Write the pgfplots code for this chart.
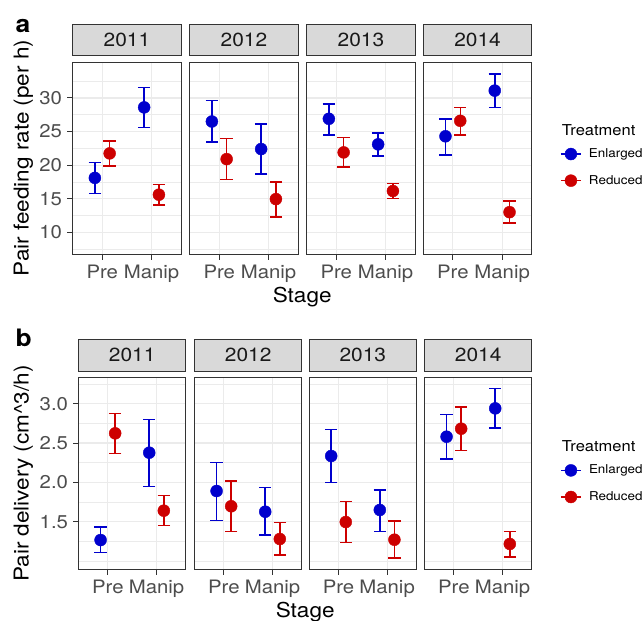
\documentclass[border=0pt]{standalone}
\usepackage{pgfplots}
\pgfplotsset{compat=1.18}
\usepackage{pgfplotstable}
\usepackage{fontspec}
\setmainfont{TeX Gyre Heros}[FakeStretch=1.1]
\definecolor{enl}{HTML}{0000CD}
\definecolor{red3}{HTML}{CD0000}
\definecolor{grey20}{HTML}{333333}
\definecolor{grey30}{HTML}{4D4D4D}
\definecolor{grey92}{HTML}{EBEBEB}
\definecolor{grey85}{HTML}{D9D9D9}

% Panel a: pair feeding rate (per h); s: 1 = Pre, 2 = Manip
\pgfplotstableread{
year s y lo hi
2011 1 18.1 15.8 20.4
2011 2 28.6 25.6 31.6
2012 1 26.5 23.45 29.65
2012 2 22.4 18.7 26.1
2013 1 26.9 24.5 29.1
2013 2 23.1 21.4 24.8
2014 1 24.3 21.5 26.9
2014 2 31.1 28.6 33.6
}\aEnl
\pgfplotstableread{
year s y lo hi
2011 1 21.75 19.9 23.6
2011 2 15.6 14.1 17.1
2012 1 20.9 17.9 24.0
2012 2 14.95 12.3 17.5
2013 1 21.9 19.7 24.1
2013 2 16.15 15.0 17.3
2014 1 26.6 24.5 28.6
2014 2 13.0 11.35 14.65
}\aRed
% Panel b: pair delivery (cm^3/h)
\pgfplotstableread{
year s y lo hi
2011 1 1.267 1.106 1.433
2011 2 2.377 1.95 2.80
2012 1 1.89 1.513 2.255
2012 2 1.627 1.33 1.932
2013 1 2.335 1.996 2.67
2013 2 1.649 1.378 1.90
2014 1 2.58 2.297 2.865
2014 2 2.94 2.69 3.19
}\bEnl
\pgfplotstableread{
year s y lo hi
2011 1 2.623 2.364 2.877
2011 2 1.64 1.45 1.83
2012 1 1.696 1.373 2.017
2012 2 1.28 1.077 1.487
2013 1 1.496 1.233 1.754
2013 2 1.271 1.04 1.509
2014 1 2.682 2.407 2.96
2014 2 1.217 1.05 1.378
}\bRed

\newcommand{\tickfont}{\fontsize{18.5bp}{20bp}\selectfont}
\newcommand{\stripfont}{\fontsize{19bp}{21bp}\selectfont}
\newcommand{\titlefont}{\fontsize{20.5bp}{23bp}\selectfont}

\pgfplotsset{
  panel/.style={
    scale only axis, anchor=north west,
    xmin=0.4, xmax=2.6,
    xtick={1,2}, xticklabels={Pre,Manip},
    tick pos=left, tick align=outside,
    major tick length=5.5bp, minor tick length=0pt,
    major tick style={grey20, line width=1bp},
    axis line style={grey20, line width=1bp},
    xmajorgrids, ymajorgrids, yminorgrids,
    major grid style={grey92, line width=1.1bp},
    minor grid style={grey92, line width=0.6bp},
    /pgf/number format/assume math mode=true,
    ticklabel style={font=\tickfont, text=grey30, inner sep=0pt},
    xticklabel style={yshift=-5.5bp},
    yticklabel style={xshift=-5bp},
    title style={at={(rel axis cs:0.5,1)}, anchor=south, fill=grey85, draw=grey20,
      line width=1bp, inner sep=0pt, font=\stripfont, text=black!90, yshift=0pt},
    legend style={draw=none, fill=none, inner sep=0pt, font=\fontsize{12.2bp}{14bp}\selectfont,
      row sep=14.2bp, column sep=7.3bp,
      nodes={inner sep=0pt, text height=9.5bp, text depth=2.8bp}},
    legend cell align=left,
  },
  pa/.style={panel, width=108.4bp, height=192bp, ymin=6.77, ymax=35.36,
    ytick={10,15,20,25,30}, minor ytick={7.5,12.5,17.5,22.5,27.5,32.5},
    title style={minimum width=108.4bp, minimum height=31.3bp}},
  pb/.style={panel, width=107bp, height=191.6bp, ymin=0.895, ymax=3.33,
    ytick={1.5,2.0,2.5,3.0}, minor ytick={1.0,1.25,1.75,2.25,2.75,3.25},
    yticklabel style={/pgf/number format/.cd, fixed, fixed zerofill, precision=1},
    title style={minimum width=107bp, minimum height=32bp}},
  inner/.style={yticklabels={}, ytick style={draw=none}},
  enlplot/.style={only marks, mark=*, mark size=6bp, color=enl,
    mark options={fill=enl, draw=enl, line width=0.4bp},
    error bars/.cd, y dir=both, y explicit, error mark=|,
    error bar style={line width=1.5bp, enl},
    error mark options={line width=1.5bp, mark size=6.2bp, enl},
    /pgfplots/.cd,
    legend image code/.code={\draw[enl, line width=1.5bp] (0bp,0bp) -- (20bp,0bp);
      \fill[enl] (10bp,0bp) circle (6bp);}},
  redplot/.style={only marks, mark=*, mark size=6bp, color=red3,
    mark options={fill=red3, draw=red3, line width=0.4bp},
    error bars/.cd, y dir=both, y explicit, error mark=|,
    error bar style={line width=1.5bp, red3},
    error mark options={line width=1.5bp, mark size=6.2bp, red3},
    /pgfplots/.cd,
    legend image code/.code={\draw[red3, line width=1.5bp] (0bp,0bp) -- (20bp,0bp);
      \fill[red3] (10bp,0bp) circle (6bp);}},
}

% #1 style, #2 x, #3 y, #4 year, #5 enl table, #6 red table, #7 extra
\newcommand{\facet}[7]{%
\begin{axis}[#1, at={(#2bp,-#3bp)}, title={#4}, #7]
\addplot[enlplot] table[x expr=\thisrow{s}-0.15, y=y,
  y error plus expr=\thisrow{hi}-\thisrow{y}, y error minus expr=\thisrow{y}-\thisrow{lo},
  restrict expr to domain={\thisrow{year}}{#4:#4}] {#5};
\addplot[redplot] table[x expr=\thisrow{s}+0.15, y=y,
  y error plus expr=\thisrow{hi}-\thisrow{y}, y error minus expr=\thisrow{y}-\thisrow{lo},
  restrict expr to domain={\thisrow{year}}{#4:#4}] {#6};
\end{axis}}

\begin{document}
\begin{tikzpicture}
\path (0,0) rectangle (644bp,-621bp);
% ---- row a ----
\facet{pa}{72.7}{62}{2011}{\aEnl}{\aRed}{}
\facet{pa}{189.7}{62}{2012}{\aEnl}{\aRed}{inner}
\facet{pa}{306.7}{62}{2013}{\aEnl}{\aRed}{inner}
\facet{pa}{423.3}{62}{2014}{\aEnl}{\aRed}{inner, legend entries={Enlarged,Reduced},
  legend style={at={(axis description cs:1.261,0.4513)}, anchor=west}}
% ---- row b ----
\facet{pb}{78.7}{377.7}{2011}{\bEnl}{\bRed}{}
\facet{pb}{194.7}{377.7}{2012}{\bEnl}{\bRed}{inner}
\facet{pb}{309.3}{377.7}{2013}{\bEnl}{\bRed}{inner}
\facet{pb}{424.7}{377.7}{2014}{\bEnl}{\bRed}{inner, legend entries={Enlarged,Reduced},
  legend style={at={(axis description cs:1.2645,0.4468)}, anchor=west}}
% ---- titles and labels ----
\node[anchor=base, font=\titlefont] at (302.2bp,-302.3bp) {Stage};
\node[anchor=base, font=\titlefont] at (305.2bp,-617.3bp) {Stage};
\node[anchor=base, rotate=90, font=\titlefont] at (28.5bp,-158bp) {Pair feeding rate (per h)};
\node[anchor=base, rotate=90, font=\titlefont] at (28.5bp,-473.5bp) {Pair delivery (cm\textasciicircum 3/h)};
\node[anchor=base west, font=\fontsize{15bp}{18bp}\selectfont] at (558.3bp,-135bp) {Treatment};
\node[anchor=base west, font=\fontsize{15bp}{18bp}\selectfont] at (558.3bp,-451bp) {Treatment};
\node[anchor=base west, inner sep=0pt, font=\fontsize{24bp}{27bp}\selectfont\bfseries] at (15.5bp,-32.3bp) {a};
\node[anchor=base west, inner sep=0pt, font=\fontsize{24bp}{27bp}\selectfont\bfseries] at (15.5bp,-346.7bp) {b};
\pgfresetboundingbox
\useasboundingbox (0,0) rectangle (644bp,-621bp);
\end{tikzpicture}
\end{document}
